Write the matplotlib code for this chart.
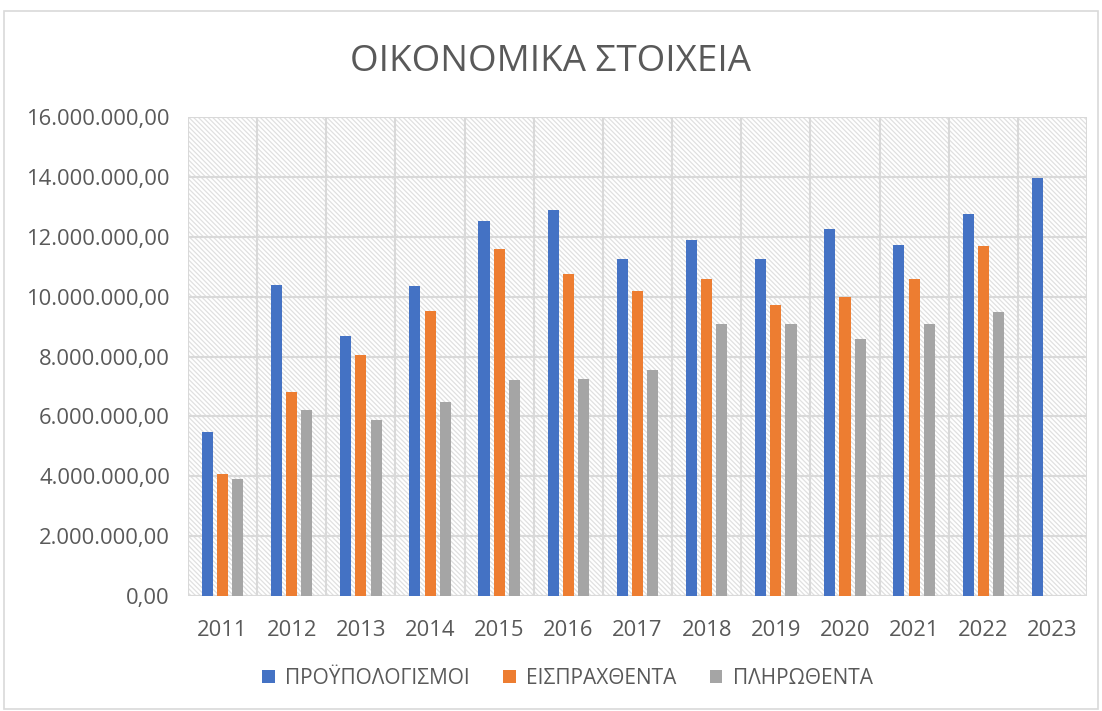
import matplotlib
matplotlib.use("Agg")
import matplotlib.pyplot as plt
import numpy as np
from matplotlib.patches import Rectangle
from matplotlib.ticker import FuncFormatter

years = ["2011", "2012", "2013", "2014", "2015", "2016", "2017",
         "2018", "2019", "2020", "2021", "2022", "2023"]
budget = [5.48e6, 10.40e6, 8.67e6, 10.35e6, 12.52e6, 12.89e6, 11.27e6,
          11.88e6, 11.27e6, 12.27e6, 11.74e6, 12.77e6, 13.95e6]
collected = [4.06e6, 6.80e6, 8.04e6, 9.51e6, 11.60e6, 10.77e6, 10.20e6,
             10.60e6, 9.73e6, 10.00e6, 10.58e6, 11.70e6, 0]
paid = [3.92e6, 6.20e6, 5.88e6, 6.47e6, 7.23e6, 7.25e6, 7.56e6,
        9.07e6, 9.07e6, 8.57e6, 9.07e6, 9.50e6, 0]
series_names = ["ΠΡΟΫΠΟΛΟΓΙΣΜΟΙ", "ΕΙΣΠΡΑΧΘΕΝΤΑ", "ΠΛΗΡΩΘΕΝΤΑ"]
colors = ["#4472c4", "#ed7d31", "#a5a5a5"]

plt.rcParams["font.family"] = ["Open Sans", "DejaVu Sans"]
plt.rcParams["hatch.color"] = "#dcdcdc"
plt.rcParams["hatch.linewidth"] = 0.9

fig = plt.figure(figsize=(11.02, 7.11), dpi=100)
ax = fig.add_axes([0.1706, 0.1617, 0.8158, 0.6737])

# outer chart border
fig.patches.append(Rectangle((0.004, 0.003), 0.992, 0.982, transform=fig.transFigure,
                             fill=False, edgecolor="#d9d9d9", linewidth=1.2))

# hatched plot background
ax.add_patch(Rectangle((0, 0), 1, 1, transform=ax.transAxes, facecolor="white",
                       edgecolor="#e0e0e0", hatch="\\" * 7, linewidth=0, zorder=0))

x = np.arange(len(years))
w = 0.16
off = 0.22
for i, (vals, name) in enumerate(zip([budget, collected, paid], series_names)):
    vals = np.array(vals)
    mask = vals > 0
    ax.bar(x[mask] + (i - 1) * off, vals[mask], width=w, color=colors[i],
           label=name, zorder=3)

ax.set_xlim(-0.5, len(years) - 0.5)
ax.set_ylim(0, 16e6)
ax.set_yticks(np.arange(0, 16e6 + 1, 2e6))
ax.yaxis.set_major_formatter(FuncFormatter(
    lambda v, p: f"{v:,.2f}".replace(",", "X").replace(".", ",").replace("X", ".")))
ax.set_xticks(x)
ax.set_xticklabels(years)

ax.grid(axis="y", color="#d9d9d9", linewidth=1.5, zorder=1)
for b in np.arange(-0.5, len(years), 1.0):
    ax.axvline(b, color="#d9d9d9", linewidth=1.5, zorder=1)
ax.set_axisbelow(True)
for s in ax.spines.values():
    s.set_visible(False)
ax.axhline(0, color="#d9d9d9", linewidth=1.5, zorder=2)

ax.tick_params(length=0, labelsize=15.8, colors="#595959")
ax.tick_params(axis="x", pad=17)
ax.tick_params(axis="y", pad=13)

fig.text(0.5, 0.913, "ΟΙΚΟΝΟΜΙΚΑ ΣΤΟΙΧΕΙΑ", ha="center", va="center",
         fontsize=26.5, color="#595959")

leg = fig.legend(loc="center", bbox_to_anchor=(0.515, 0.046), ncol=3, frameon=False,
                 fontsize=15, handlelength=0.6, handleheight=0.6, columnspacing=1.6,
                 handletextpad=0.5)
for t in leg.get_texts():
    t.set_color("#595959")

fig.savefig("out.png", dpi=100)
